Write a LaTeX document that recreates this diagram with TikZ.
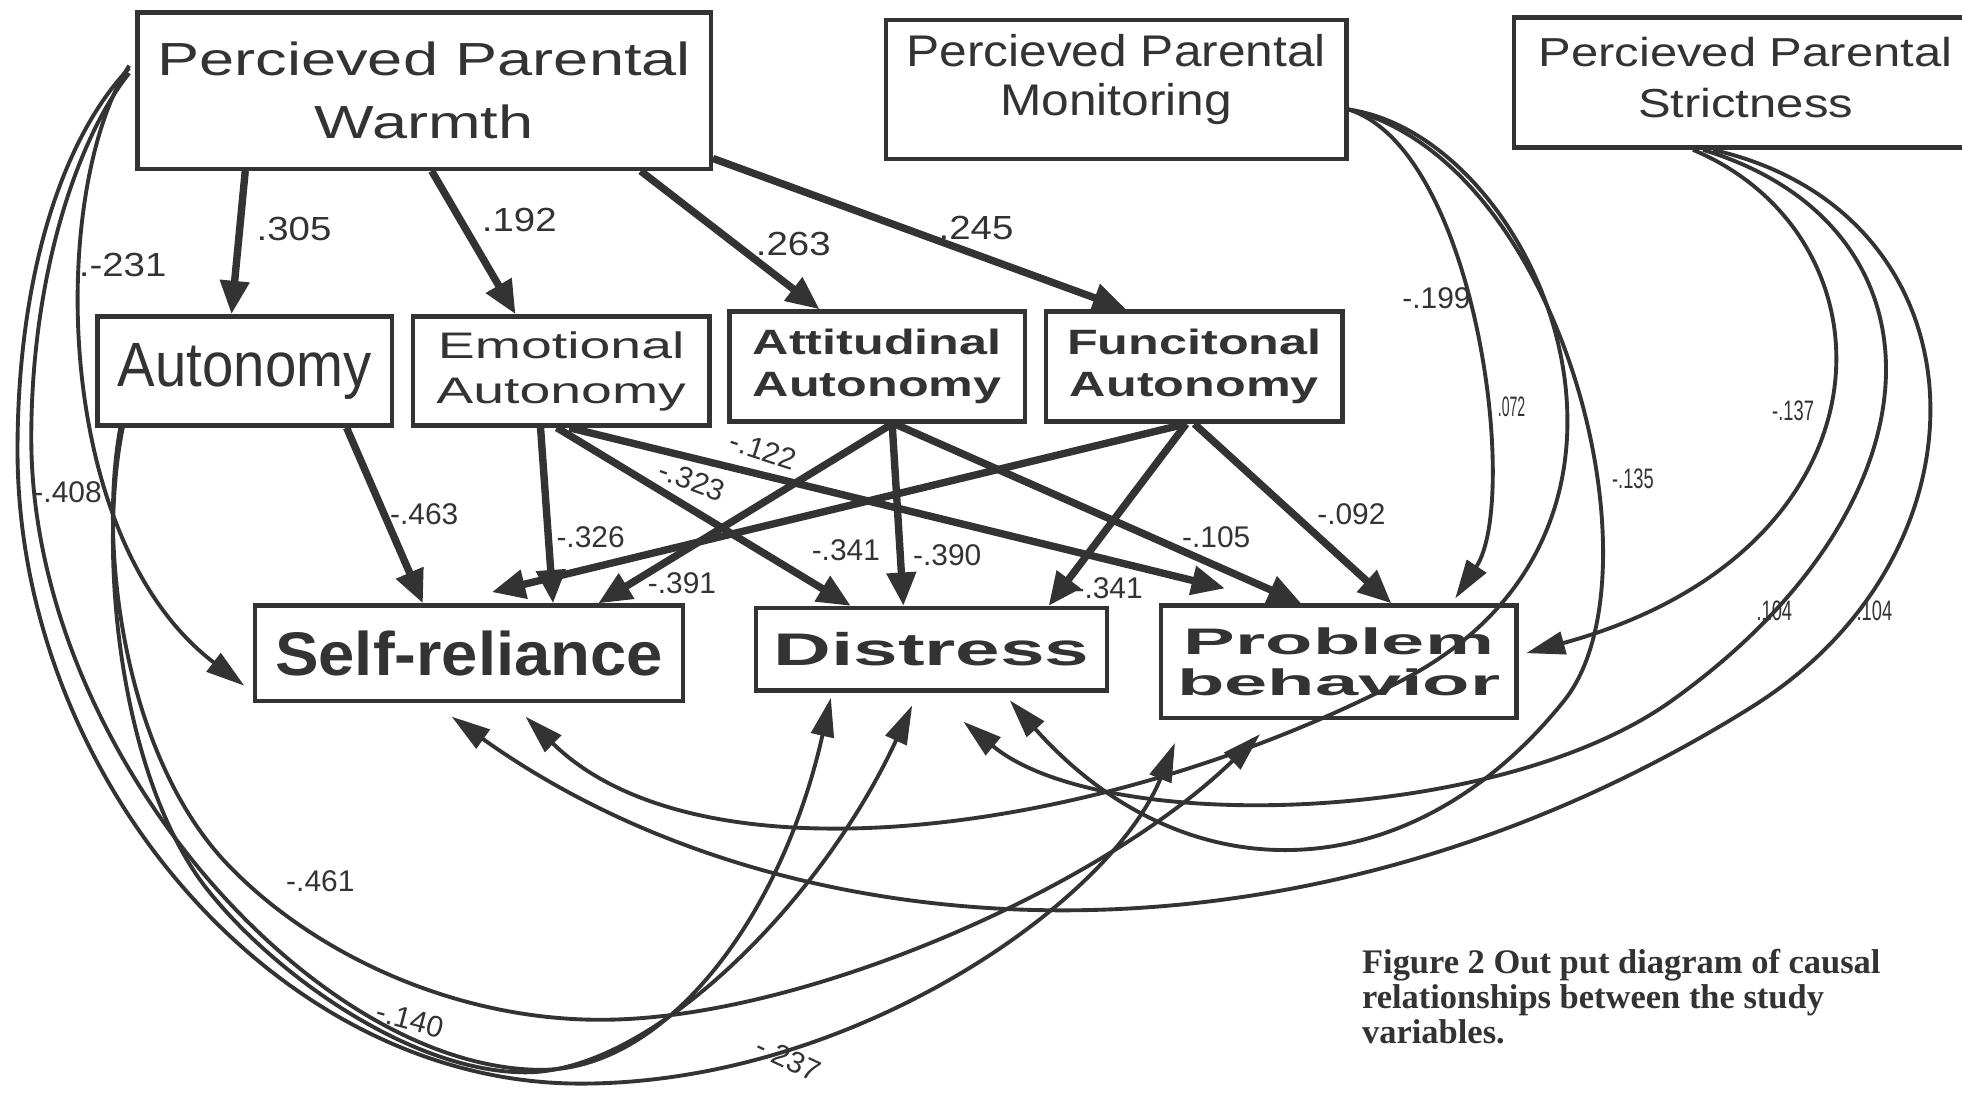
\documentclass[tikz,border=0pt]{standalone}
\usepackage{fontspec}
\setmainfont{Liberation Sans}
\newfontfamily\fwarm[FakeStretch=1.36]{Liberation Sans}
\newfontfamily\fmonit[FakeStretch=1.12]{Liberation Sans}
\newfontfamily\fstrict[FakeStretch=1.21]{Liberation Sans}
\newfontfamily\fnarrow[FakeStretch=0.9]{Liberation Sans}
\newfontfamily\fwide[FakeStretch=1.5]{Liberation Sans}
\newfontfamily\fwidebf[FakeStretch=1.43]{Liberation Sans}
\newfontfamily\fsrel[FakeStretch=1.06]{Liberation Sans}
\newfontfamily\fdist[FakeStretch=1.75]{Liberation Sans}
\newfontfamily\fprob[FakeStretch=2.1]{Liberation Sans}
\newfontfamily\fbig[FakeStretch=1.15]{Liberation Sans}
\newfontfamily\fsml[FakeStretch=0.65]{Liberation Sans}
\newfontfamily\fcap{Liberation Serif}
\usetikzlibrary{arrows.meta,calc}
\colorlet{dk}{black!80}

\begin{document}
\begin{tikzpicture}[x=0.125mm,y=-0.125mm,
        box/.style={draw=dk,line width=1.25pt,inner sep=0pt,align=center,text=dk},
        eff/.style={dk,line width=2.1pt,-{Triangle[length=9.5pt,width=8pt]}},
        cov/.style={dk,line width=1.1pt,-{Triangle[length=11pt,width=6.5pt]}},
        lab/.style={text=dk,inner sep=0pt},
        numbig/.style={lab,font={\fbig\fontsize{9.5}{11}\selectfont}},
        nummid/.style={lab,font={\fontsize{8.5}{10}\selectfont}},
        numsml/.style={lab,font={\fsml\fontsize{8}{9}\selectfont}}
    ]
    \useasboundingbox (0,0) rectangle (1568,873);
    \clip (0,0) rectangle (1568,873);

    % variables
    \node[box,minimum width=57.25mm,minimum height=15.6mm,
        font={\fwarm\fontsize{13.2}{18}\selectfont}] (warm) at (339,72.5)
        {Percieved Parental\\Warmth};
    \node[box,minimum width=46mm,minimum height=13.9mm,
        font={\fmonit\fontsize{12.6}{14.2}\selectfont}] (monit) at (892,71.5)
        {Percieved Parental\\Monitoring\rule[-2.9mm]{0pt}{0pt}};
    \node[box,minimum width=46.25mm,minimum height=13mm,
        font={\fstrict\fontsize{11.5}{14.5}\selectfont}] (strict) at (1395,66)
        {Percieved Parental\\Strictness\rule[-1mm]{0pt}{0pt}};
    \node[box,minimum width=29.4mm,minimum height=10.9mm,
        font={\fnarrow\fontsize{17.8}{20}\selectfont}] (aut) at (195.5,296.5) {Autonomy};
    \node[box,minimum width=29.6mm,minimum height=10.9mm,
        font={\fwide\fontsize{10.5}{12.8}\selectfont}] (emo) at (448.5,296.5) {Emotional\\Autonomy};
    \node[box,minimum width=29.5mm,minimum height=11mm,
        font={\fwidebf\bfseries\fontsize{10}{11.8}\selectfont}] (att) at (701,293) {Attitudinal\\Autonomy};
    \node[box,minimum width=29.6mm,minimum height=11mm,
        font={\fwidebf\bfseries\fontsize{10}{11.8}\selectfont}] (func) at (954.5,293) {Funcitonal\\Autonomy};
    \node[box,minimum width=42.75mm,minimum height=9.5mm,
        font={\fsrel\bfseries\fontsize{17.5}{20}\selectfont}] (srel) at (375,522) {Self-reliance};
    \node[box,minimum width=35.1mm,minimum height=8.25mm,
        font={\fdist\bfseries\fontsize{13}{15}\selectfont}] (dist) at (744.5,519) {Distress};
    \node[box,minimum width=35.5mm,minimum height=11.25mm,
        font={\fprob\bfseries\fontsize{10.5}{11.7}\selectfont}] (prob) at (1070,529) {Problem\\behavior};

    % direct paths
    \draw[eff] ($(warm.south)+(-143,0)$) -- ($(aut.north)+(-10.5,0)$);
    \draw[eff] ($(warm.south)+(6,0)$) -- ($(emo.north)+(-36.5,0)$);
    \draw[eff] ($(warm.south)+(173,0)$) -- ($(att.north)+(-46,0)$);
    \draw[eff] ($(warm.south east)+(0,-10)$) -- ($(func.north)+(-54.5,0)$);
    \draw[eff] ($(aut.south)+(81.5,0)$) -- ($(srel.north)+(-37,0)$);
    \draw[eff] ($(emo.south)+(-16.5,0)$) -- ($(srel.north)+(67,0)$);
    \draw[eff] ($(emo.south)+(-3.5,0)$) -- ($(dist.north)+(-64.5,0)$);
    \draw[eff] ($(emo.south)+(6.5,0)$) -- ($(prob.north)+(-91,-12)$);
    \draw[eff] ($(att.south)+(12,0)$) -- ($(srel.north)+(103,0)$);
    \draw[eff] ($(att.south)+(12,0)$) -- ($(dist.north)+(-22.5,0)$);
    \draw[eff] ($(att.south)+(14,0)$) -- ($(prob.north)+(-30,0)$);
    \draw[eff] ($(func.south)+(-6.5,0)$) -- ($(srel.north)+(18,-9)$);
    \draw[eff] ($(func.south)+(-6.5,0)$) -- ($(dist.north)+(93.5,0)$);
    \draw[eff] (func.south) -- ($(prob.north)+(42,0)$);

    % curved paths, left side
    \draw[cov] ($(warm.west)+(-5,-20)$) .. controls (40,150) and (40,430) .. ($(srel.west)+(-7,26)$);
    \draw[cov] ($(warm.west)+(-5,-18)$) .. controls (50,110) and (14,220) .. (14,360)
        .. controls (14,620) and (220,866) .. (464,866)
        .. controls (680,866) and (887,722) .. ($(prob.south)+(-131,18)$);
    \draw[cov] ($(warm.west)+(-5,-14)$) .. controls (62,110) and (25,220) .. (25,350)
        .. controls (25,600) and (250,852) .. (430,855)
        .. controls (530,857) and (624,736) .. ($(dist.south)+(-80.5,4)$);
    \draw[cov] ($(aut.south west)+(20,0)$) .. controls (78,440) and (100,610) .. (186,695)
        .. controls (250,760) and (360,815) .. (480,815)
        .. controls (640,815) and (880,710) .. ($(prob.south)+(-63,11)$);
    \draw[cov] ($(aut.south west)+(22,0)$) .. controls (78,440) and (95,620) .. (165,710)
        .. controls (220,780) and (330,857) .. (420,857)
        .. controls (520,857) and (656,722) .. ($(dist.south)+(-15.5,10)$);

    % curved paths, right side
    \draw[cov] ($(monit.east)+(0,16)$) .. controls (1180,120) and (1215,400) .. ($(prob.north)+(93,-4)$);
    \draw[cov] ($(monit.east)+(0,16)$) .. controls (1230,110) and (1360,420) .. (1120,544)
        .. controls (880,668) and (560,710) .. ($(srel.south)+(45,11)$);
    \draw[cov] ($(monit.east)+(0,16)$) .. controls (1250,130) and (1330,460) .. (1250,560)
        .. controls (1130,710) and (950,720) .. ($(dist.south)+(62.5,6)$);
    \draw[cov] ($(strict.south)+(-42,0)$) .. controls (1520,190) and (1520,440) .. ($(prob.east)+(6,-7)$);
    \draw[cov] ($(strict.south)+(-34,0)$) .. controls (1560,180) and (1560,400) .. (1336,560)
        .. controls (1196,660) and (880,668) .. ($(dist.south)+(25.5,23)$);
    \draw[cov] ($(strict.south)+(-26,0)$) .. controls (1590,170) and (1600,440) .. (1400,565)
        .. controls (1040,790) and (630,765) .. ($(srel.south)+(-14,11)$);

    % coefficients
    \node[numbig] (c305) at (235,183) {.305};
    \node[numbig] (c192) at (415,176) {.192};
    \node[numbig] (c263) at (634,195) {.263};
    \node[numbig] (c245) at (780,182) {.245};
    \node[numbig] (c231) at (98,212) {.-231};
    \node[nummid] (c408) at (54,393) {-.408};
    \node[nummid] (c463) at (339,411) {-.463};
    \node[nummid] (c326) at (472,429) {-.326};
    \node[nummid] (c391) at (545,466) {-.391};
    \node[nummid] (c341a) at (676,440) {-.341};
    \node[nummid] (c390) at (757,444) {-.390};
    \node[nummid,rotate=-18] (c122) at (610,360) {-.122};
    \node[nummid,rotate=-20] (c323) at (553,384) {-.323};
    \node[nummid] (c105) at (972,429) {-.105};
    \node[nummid] (c092) at (1080,411) {-.092};
    \node[nummid] (c341b) at (886,470) {-.341};
    \node[numsml,font={\fontsize{8.5}{9}\selectfont}] (c199) at (1148,238) {-.199};
    \node[numsml,font={\fsml\fontsize{8}{9}\selectfont\addfontfeatures{FakeStretch=0.5}}] (c072) at (1208,325) {.072};
    \node[numsml] (c135) at (1305,383) {-.135};
    \node[numsml] (c137) at (1433,328) {-.137};
    \node[numsml] (c104a) at (1418,488) {.104};
    \node[numsml] (c104b) at (1498,488) {.104};
    \node[nummid] (c461) at (256,704) {-.461};
    \node[nummid,rotate=-15] (c140) at (328,815) {-.140};
    \node[nummid,rotate=-25] (c237) at (630,846) {-.237};

    \node[anchor=north west,align=left,inner sep=0pt,text=dk,
        font={\fcap\bfseries\fontsize{9.8}{9.9}\selectfont}] (capt) at (1088,758)
        {Figure 2 Out put diagram of causal\\relationships between the study\\variables.};
\end{tikzpicture}
\end{document}
